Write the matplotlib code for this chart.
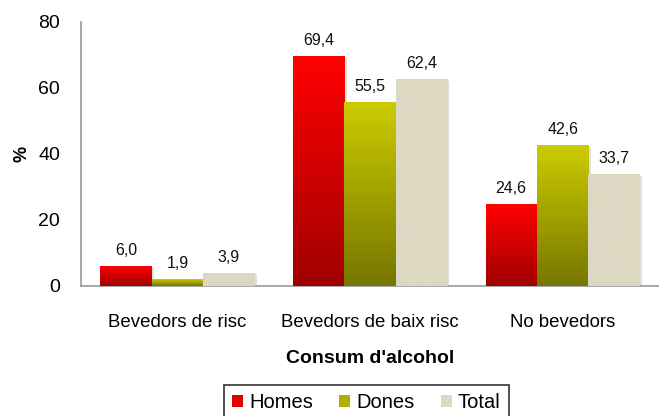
import numpy as np
import matplotlib
matplotlib.use("Agg")
import matplotlib.pyplot as plt
from matplotlib.colors import LinearSegmentedColormap
from matplotlib.patches import Patch, Rectangle

categories = ["Bevedors de risc", "Bevedors de baix risc", "No bevedors"]
series_names = ["Homes", "Dones", "Total"]
homes = [6.0, 69.4, 24.6]
dones = [1.9, 55.5, 42.6]
total = [3.9, 62.4, 33.7]
yticks = [0, 20, 40, 60, 80]

plt.rcParams['font.family'] = ['Liberation Sans', 'DejaVu Sans']

fig = plt.figure(figsize=(6.59, 4.16), dpi=100)
ax = fig.add_axes([0.123, 0.3125, 0.877, 0.635])

grads = [("#FF0000", "#A00000"), ("#CCCC00", "#767600"), ("#DDD8C2", "#DDD8C2")]
legend_cols = ["#E00000", "#B0B000", "#DDD8C2"]
values = [homes, dones, total]
x = np.arange(len(categories))
w = 0.267
for i, (vals, (ctop, cbot)) in enumerate(zip(values, grads)):
    pos = x + (i - 1) * w
    bars = ax.bar(pos, vals, width=w, color="none", edgecolor="none", zorder=3)
    cmap = LinearSegmentedColormap.from_list("g%d" % i, [cbot, ctop])
    for b, v in zip(bars, vals):
        bx, by = b.get_x(), b.get_y()
        bw, bh = b.get_width(), b.get_height()
        # shadow
        ax.add_patch(Rectangle((bx + 0.012, by), bw, bh - 0.4, facecolor="#000000",
                               alpha=0.12, edgecolor="none", zorder=2))
        grad = np.linspace(0, 1, 256).reshape(-1, 1)
        ax.imshow(grad, cmap=cmap, origin="lower", aspect="auto",
                  extent=[bx, bx + bw, by, by + bh], zorder=3, interpolation="bicubic")
        ax.text(b.get_x() + bw / 2, v + 2.6, ("%.1f" % v).replace(".", ","),
                ha="center", va="bottom", fontsize=11.5, color="#111111", zorder=4)

ax.set_xlim(-0.5, 2.5)
ax.set_ylim(0, 80)
ax.set_yticks(yticks)
ax.set_yticklabels([str(t) for t in yticks], fontsize=14)
ax.set_xticks(x)
ax.set_xticklabels(categories, fontsize=13.4)
ax.tick_params(axis="x", length=0, pad=20)
ax.tick_params(axis="y", length=0, pad=15)
for s in ["top", "right"]:
    ax.spines[s].set_visible(False)
for s in ["left", "bottom"]:
    ax.spines[s].set_color("#999999")
    ax.spines[s].set_linewidth(1.2)
ax.set_xlabel("Consum d'alcohol", fontsize=14, fontweight="bold", labelpad=14)
ax.set_ylabel("%", fontsize=13, fontweight="bold", labelpad=6)

handles = [Patch(facecolor=c, edgecolor="none") for c in legend_cols]
leg = fig.legend(handles, series_names, loc="upper center", bbox_to_anchor=(0.556, 0.074),
                 ncol=3, fontsize=14.5, frameon=True, fancybox=False, borderaxespad=0,
                 handlelength=0.55, handleheight=0.55, handletextpad=0.3, columnspacing=1.3,
                 borderpad=0.4)
leg.get_frame().set_edgecolor("#000000")
leg.get_frame().set_linewidth(1.2)

fig.savefig("out.png", dpi=100)
